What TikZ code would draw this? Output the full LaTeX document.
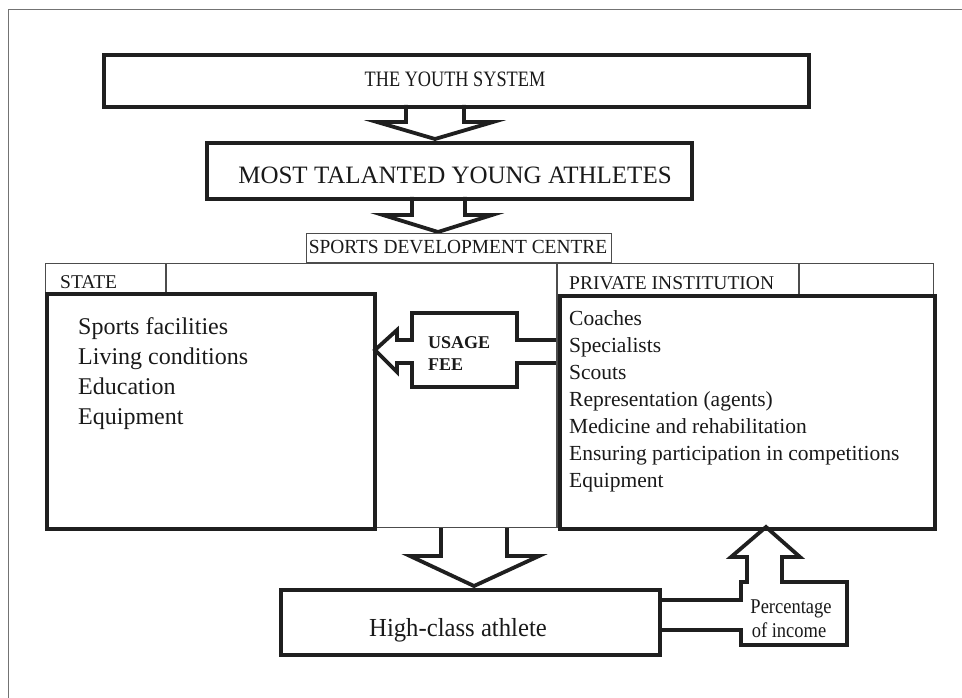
\documentclass[tikz,border=0pt]{standalone}
\usepackage{fontspec}
\setmainfont{Liberation Serif}
\usepackage{graphicx}
\begin{document}
\begin{tikzpicture}[x=1pt,y=-1pt,
  thickbox/.style={draw=black!88, line width=4pt, inner sep=0pt, anchor=north west},
  thinbox/.style={draw=black!70, line width=1.3pt, inner sep=0pt, anchor=north west},
  thinline/.style={draw=black!70, line width=1.3pt},
  blockarrow/.style={draw=black!88, line width=3.8pt, line join=miter, miter limit=10},
  lbl/.style={inner sep=0pt, text=black!90}]
\useasboundingbox (0,0) rectangle (962,698);
% outer frame
\draw[black!55, line width=1pt] (8,698) -- (8,9.5) -- (962,9.5);

% block arrows
\draw[blockarrow] (406,105) -- (406,122) -- (377,122) -- (435,139) -- (493,122) -- (464,122) -- (464,105);
\draw[blockarrow] (412,197) -- (412,215) -- (383,215) -- (438,232) -- (492,215) -- (465,215) -- (465,197);
\draw[blockarrow] (441,527) -- (441,556) -- (410,556) -- (474,586) -- (539,556) -- (507,556) -- (507,527);
\draw[blockarrow] (560,340) -- (517,340) -- (517,313) -- (412,313) -- (412,340) -- (397,340) -- (397,330)
  -- (375,350) -- (397,372) -- (397,363) -- (412,363) -- (412,387) -- (517,387) -- (517,363) -- (560,363);
\draw[blockarrow] (658,600) -- (741,600) -- (741,582) -- (747,582) -- (747,557) -- (731,557) -- (766,527)
  -- (800,557) -- (782,557) -- (782,582) -- (847,582) -- (847,645) -- (741,645) -- (741,630) -- (658,630);

% thin frame of the development centre
\node[thinbox, minimum width=888pt, minimum height=264pt] (frame) at (45,263) {};
\node[thinbox, minimum width=305pt, minimum height=29pt] (sdc) at (306,233) {};
\draw[thinline] (166,263) -- (166,292);
\draw[thinline] (557,263) -- (557,527);
\draw[thinline] (799,263) -- (799,294);

% thick boxes
\node[thickbox, minimum width=705pt, minimum height=52pt] (youth) at (102,53) {};
\node[thickbox, minimum width=485pt, minimum height=56pt] (talent) at (205,141) {};
\node[thickbox, minimum width=328pt, minimum height=235pt] (state) at (45,292) {};
\node[thickbox, minimum width=375pt, minimum height=233pt] (private) at (558,294) {};
\node[thickbox, minimum width=379pt, minimum height=65pt] (athlete) at (279,588) {};

% texts
\node[lbl, anchor=base, font=\fontsize{22}{26}\selectfont] (tyouth) at (455,87) {\scalebox{0.83}[1]{THE YOUTH SYSTEM}};
\node[lbl, anchor=base, font=\fontsize{25}{30}\selectfont] (ttalent) at (455,184) {MOST TALANTED YOUNG ATHLETES};
\node[lbl, anchor=base, font=\fontsize{20}{24}\selectfont] (tsdc) at (458,254) {\scalebox{0.97}[1]{SPORTS DEVELOPMENT CENTRE}};
\node[lbl, anchor=base west, font=\fontsize{19.5}{23}\selectfont] (tstate) at (60,288) {STATE};
\node[lbl, anchor=base west, font=\fontsize{19.5}{23}\selectfont] (tpriv) at (569,289) {PRIVATE INSTITUTION};
\foreach \t [count=\i] in {Sports facilities, Living conditions, Education, Equipment}
  \node[lbl, anchor=base west, font=\fontsize{24}{29}\selectfont] (s\i) at (78,{334+30.3*(\i-1)}) {\t};
\foreach \t [count=\i] in {Coaches, Specialists, Scouts, Representation (agents), Medicine and rehabilitation, Ensuring participation in competitions, Equipment}
  \node[lbl, anchor=base west, font=\fontsize{21.5}{26}\selectfont] (p\i) at (569,{325+27*(\i-1)}) {\t};
\node[lbl, anchor=base west, font=\bfseries\fontsize{18}{22}\selectfont] (tusage) at (428,348) {USAGE};
\node[lbl, anchor=base west, font=\bfseries\fontsize{18}{22}\selectfont] (tfee) at (428,370) {FEE};
\node[lbl, anchor=base, font=\fontsize{26}{31}\selectfont] (tathlete) at (458,636) {\scalebox{0.95}[1]{High-class athlete}};
\node[lbl, anchor=base, font=\fontsize{21}{25}\selectfont] (tperc) at (791,613) {\scalebox{0.88}[1]{Percentage}};
\node[lbl, anchor=base, font=\fontsize{21}{25}\selectfont] (tinc) at (789,637) {\scalebox{0.88}[1]{of income}};
\end{tikzpicture}
\end{document}
